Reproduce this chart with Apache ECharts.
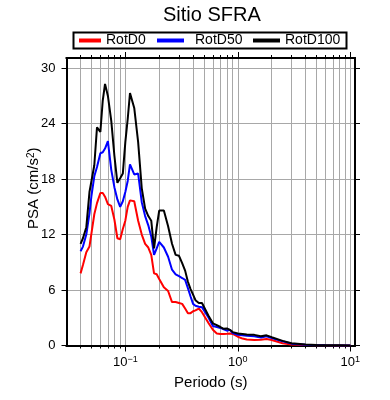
<!DOCTYPE html>
<html>
<head>
<meta charset="utf-8">
<script src="https://cdn.jsdelivr.net/npm/echarts@6/dist/echarts.min.js"></script>
<style>
  html, body { margin: 0; padding: 0; background: #fff; }
  #chart { width: 390px; height: 400px; }
</style>
</head>
<body>
<div id="chart"></div>
<script>
// periodos (s)
var periods = [0.04, 0.042, 0.045, 0.048, 0.05, 0.053, 0.056, 0.06, 0.063, 0.066,
  0.07, 0.075, 0.08, 0.085, 0.09, 0.095, 0.1, 0.105, 0.11, 0.12,
  0.13, 0.14, 0.15, 0.16, 0.17, 0.18, 0.19, 0.2, 0.22, 0.24,
  0.26, 0.28, 0.3, 0.32, 0.34, 0.36, 0.38, 0.4, 0.42, 0.45,
  0.48, 0.5, 0.55, 0.6, 0.65, 0.7, 0.75, 0.8, 0.85, 0.9,
  1.0, 1.1, 1.2, 1.4, 1.6, 1.8, 2.0, 2.5, 3, 4,
  5, 6, 8, 10];

var rotD0 = [7.8, 8.7, 10.1, 10.7, 10.8, 14.2, 15.4, 16.5, 16.5, 16.1,
  15.3, 15.1, 13.6, 11.6, 11.5, 12.6, 13.5, 15.0, 15.7, 15.6,
  13.5, 12.0, 11.0, 10.6, 9.8, 7.8, 7.7, 7.2, 6.3, 5.9,
  4.7, 4.7, 4.6, 4.5, 4.0, 3.5, 3.5, 3.7, 3.8, 4.0,
  3.6, 3.55, 2.4, 1.7, 1.3, 1.25, 1.25, 1.27, 1.3, 1.25,
  0.95, 0.75, 0.65, 0.6, 0.62, 0.7, 0.6, 0.25, 0.12, 0.06,
  0.03, 0.02, 0.01, 0.01];

var rotD50 = [10.2, 10.7, 12.0, 14.3, 16.2, 18.3, 19.3, 20.8, 20.9, 21.3,
  22.1, 19.0, 17.1, 15.8, 15.0, 15.6, 16.6, 17.8, 19.6, 18.5,
  18.6, 15.5, 14.0, 13.0, 11.8, 9.8, 10.5, 11.2, 10.6, 9.6,
  8.2, 7.7, 7.5, 7.3, 7.1, 6.2, 5.3, 4.5, 4.3, 4.2,
  4.15, 4.0, 3.0, 2.1, 2.0, 1.9, 1.75, 1.6, 1.7, 1.35,
  1.15, 1.1, 1.05, 1.0, 0.85, 1.0, 0.8, 0.45, 0.2, 0.08,
  0.04, 0.02, 0.01, 0.01];

var rotD100 = [11.0, 11.6, 12.8, 16.6, 16.8, 19.5, 23.6, 23.1, 26.5, 28.3,
  27.0, 24.3, 20.5, 17.6, 18.1, 18.6, 22.0, 24.5, 27.3, 25.7,
  22.0, 17.0, 14.8, 14.0, 13.5, 10.5, 12.8, 14.6, 14.6, 12.9,
  11.0, 9.8, 9.7, 8.9, 8.1, 6.9, 6.1, 5.5, 4.9, 4.6,
  4.6, 4.4, 3.2, 2.4, 2.2, 2.0, 1.8, 1.85, 1.7, 1.45,
  1.3, 1.25, 1.2, 1.15, 1.0, 1.1, 0.9, 0.5, 0.25, 0.1,
  0.05, 0.03, 0.02, 0.01];

// ticks
var yTicks = [0, 6, 12, 18, 24, 30];
var xMajor = [0.1, 1, 10];
var xMinor = [0.04, 0.05, 0.06, 0.07, 0.08, 0.09, 0.1,
  0.2, 0.3, 0.4, 0.5, 0.6, 0.7, 0.8, 0.9, 1,
  2, 3, 4, 5, 6, 7, 8, 9, 10];

var FONT = '"Liberation Sans", Arial, sans-serif';
var X_MIN = 0.03, X_MAX = 11;
var Y_MIN = 0, Y_MAX = 31.1;

function pairs(ys) {
  return periods.map(function (p, i) { return [p, ys[i]]; });
}

function expLabel(v) {
  var e = Math.round(Math.log10(v));
  return '10{sup|' + (e < 0 ? '\u2212' + (-e) : e) + '}';
}

function xAx(pos, ticks, len, main) {
  return {
    type: 'log', logBase: 10, min: X_MIN, max: X_MAX, position: pos,
    axisLine: { show: true, onZero: false, lineStyle: { color: '#000', width: 2 } },
    axisTick: { show: true, inside: false, length: len, customValues: ticks,
      lineStyle: { color: '#000', width: 1 } },
    axisLabel: main ? {
      show: true, customValues: xMajor, formatter: expLabel, margin: 10,
      color: '#000', fontSize: 13, fontFamily: FONT,
      rich: { sup: { fontSize: 9, verticalAlign: 'top', padding: [0, 0, 5, 0], fontFamily: FONT, color: '#000' } }
    } : { show: false },
    splitLine: { show: !!main, lineStyle: { color: '#a8a8a8', width: 1 } },
    name: main ? 'Periodo (s)' : '',
    nameLocation: 'middle', nameGap: 30,
    nameTextStyle: { fontSize: 15, color: '#000', fontFamily: FONT }
  };
}

function yAx(pos, main) {
  return {
    type: 'value', min: Y_MIN, max: Y_MAX, position: pos,
    axisLine: { show: true, onZero: false, lineStyle: { color: '#000', width: 2 } },
    axisTick: { show: true, inside: false, length: 5, customValues: yTicks,
      lineStyle: { color: '#000', width: 1 } },
    axisLabel: main ? { show: true, customValues: yTicks, margin: 11,
      color: '#000', fontSize: 13, fontFamily: FONT } : { show: false },
    splitLine: { show: !!main, lineStyle: { color: '#a8a8a8', width: 1 } },
    name: main ? 'PSA (cm/s{sup|2})' : '',
    nameLocation: 'middle', nameGap: 25, nameMoveOverlap: false,
    nameTextStyle: { fontSize: 15, color: '#000', fontFamily: FONT, padding: [0, 0, 0, 27],
      rich: { sup: { fontSize: 10, verticalAlign: 'top', padding: [0, 0, 5, 0], fontFamily: FONT, color: '#000' } } }
  };
}

function legendAt(name, left, w, pad) {
  return {
    data: [name], left: left, top: 33.5, orient: 'horizontal',
    icon: 'rect', itemWidth: w, itemHeight: 4, itemGap: 0, padding: 0,
    selectedMode: false,
    textStyle: { fontSize: 14, color: '#000', fontFamily: FONT, padding: [0, 0, 0, pad] }
  };
}

var chart = echarts.init(document.getElementById('chart'), null, { renderer: 'canvas' });
var option = {
  animation: false,
  backgroundColor: '#fff',
  textStyle: { fontFamily: FONT },
  title: {
    text: 'Sitio SFRA', left: 163, top: 5, padding: 0,
    textStyle: { fontSize: 20, fontWeight: 'normal', color: '#000', fontFamily: FONT }
  },
  legend: [
    legendAt('RotD0', 79, 22, 0),
    legendAt('RotD50', 157, 27, 6),
    legendAt('RotD100', 253, 27, 0)
  ],
  graphic: [{
    type: 'rect', z: 100,
    shape: { x: 73.5, y: 32.5, width: 273, height: 16 },
    style: { fill: 'none', stroke: '#000', lineWidth: 2 }
  }],
  grid: { left: 66.5, right: 35, top: 58, bottom: 54.5, containLabel: false },
  xAxis: [
    xAx('bottom', xMinor, 3, true),
    xAx('bottom', xMajor, 6, false),
    xAx('top', xMinor, 3, false),
    xAx('top', xMajor, 6, false)
  ],
  yAxis: [yAx('left', true), yAx('right', false)],
  series: [
    { name: 'RotD0', type: 'line', data: pairs(rotD0), symbol: 'none', color: '#ff0000',
      lineStyle: { width: 2, color: '#ff0000' } },
    { name: 'RotD50', type: 'line', data: pairs(rotD50), symbol: 'none', color: '#0000ff',
      lineStyle: { width: 2, color: '#0000ff' } },
    { name: 'RotD100', type: 'line', data: pairs(rotD100), symbol: 'none', color: '#000000',
      lineStyle: { width: 2, color: '#000000' } }
  ]
};
chart.setOption(option);
</script>
</body>
</html>
